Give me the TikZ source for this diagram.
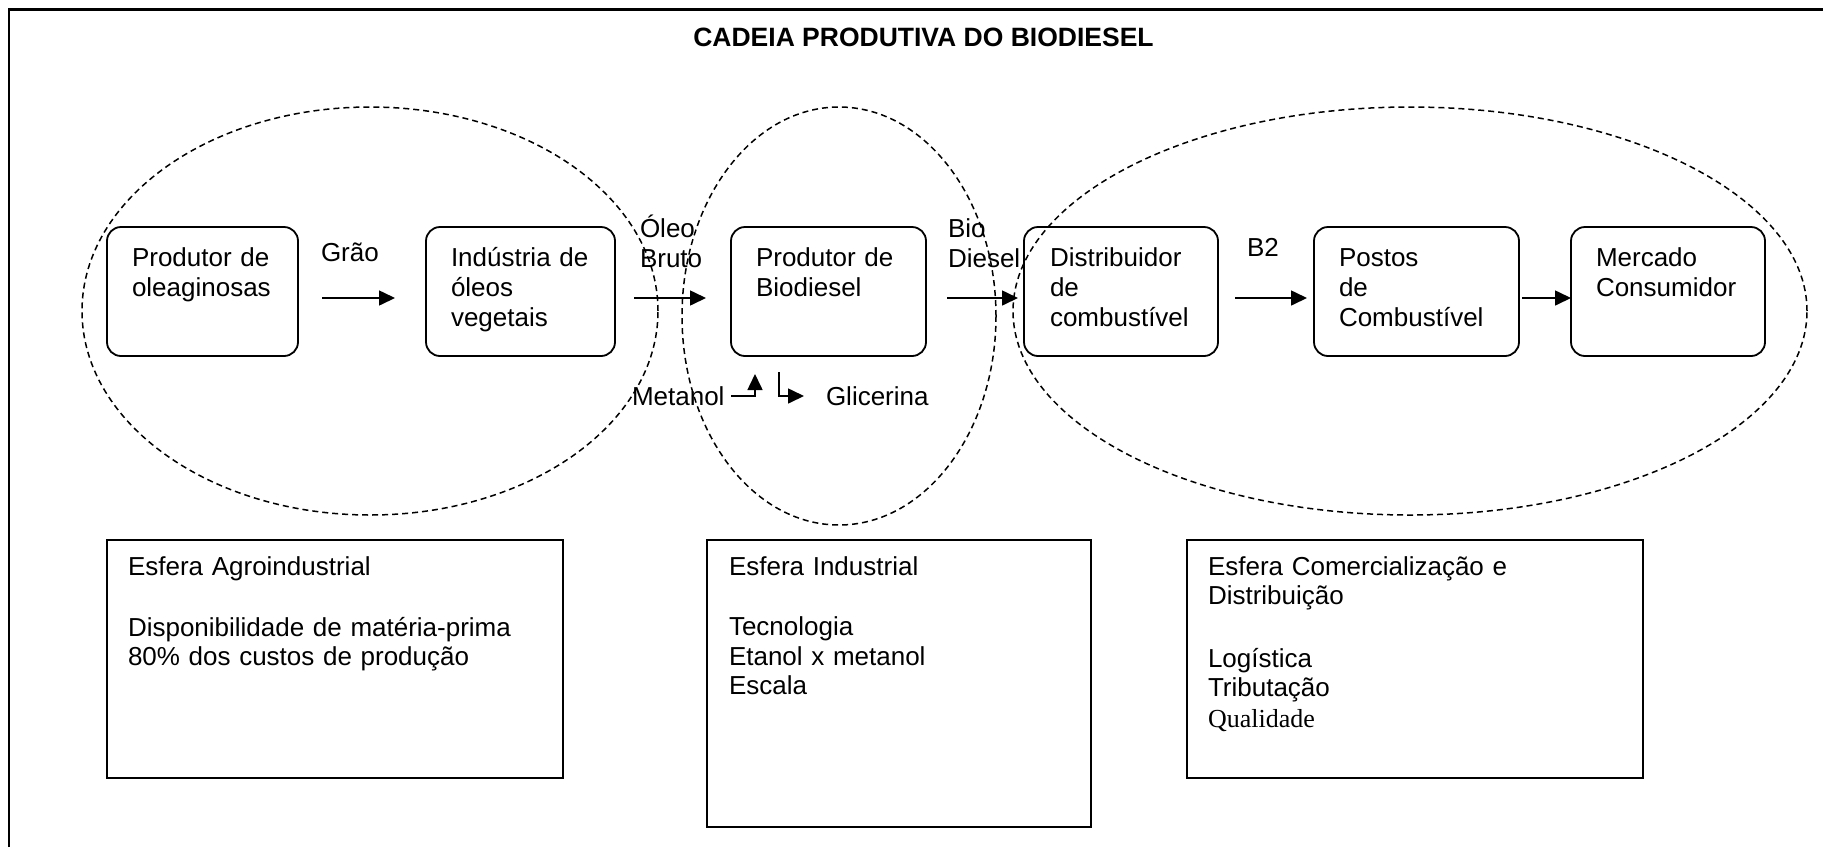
\documentclass[tikz,border=0pt]{standalone}
\usepackage{fontspec}
\setmainfont{Liberation Sans}
\newfontfamily\qualfont{Liberation Serif}
\usetikzlibrary{arrows.meta}

\tikzset{
  frameline/.style={line width=2.5pt},
  sphere/.style={draw, dash pattern=on 6pt off 4pt, line width=1.5pt},
  rbox/.style={draw, rounded corners=14pt, line width=1.8pt, inner sep=0pt, outer sep=0pt},
  sbox/.style={draw, line width=2.2pt, inner sep=0pt, outer sep=0pt},
  txt/.style={font=\fontsize{26}{30}\selectfont, inner sep=0pt, outer sep=0pt,
              anchor=base west, align=left, text width=#1},
  txt/.default=180pt,
  flow/.style={-{Triangle[length=16pt,width=15pt]}, line width=1.6pt},
}

\begin{document}
\begin{tikzpicture}[x=1pt,y=-1pt]
\useasboundingbox (0,0) rectangle (1823,847);

% outer frame (top and left edges)
\draw[frameline] (9,847) -- (9,9.5) -- (1823,9.5);

% title
\node[font=\bfseries\fontsize{26.5}{30}\selectfont, inner sep=0pt] (title) at (923.5,37)
  {CADEIA PRODUTIVA DO BIODIESEL};

% chain of agents
\node[rbox, minimum width=191pt, minimum height=129pt] (b1) at (202.5,291.5) {};
\node[rbox, minimum width=189pt, minimum height=129pt] (b2) at (520.5,291.5) {};
\node[rbox, minimum width=195pt, minimum height=129pt] (b3) at (828.5,291.5) {};
\node[rbox, minimum width=194pt, minimum height=129pt] (b4) at (1121,291.5) {};
\node[rbox, minimum width=205pt, minimum height=129pt] (b5) at (1416.5,291.5) {};
\node[rbox, minimum width=194pt, minimum height=129pt] (b6) at (1668,291.5) {};

\node[txt] (t1) at ([xshift=25pt,yshift=-39pt]b1.north west) {Produtor de\\oleaginosas};
\node[txt] (t2) at ([xshift=25pt,yshift=-39pt]b2.north west) {Indústria de\\óleos\\vegetais};
\node[txt] (t3) at ([xshift=25pt,yshift=-39pt]b3.north west) {Produtor de\\Biodiesel};
\node[txt] (t4) at ([xshift=26pt,yshift=-39pt]b4.north west) {Distribuidor\\de\\combustível};
\node[txt] (t5) at ([xshift=25pt,yshift=-39pt]b5.north west) {Postos\\de\\Combustível};
\node[txt] (t6) at ([xshift=25pt,yshift=-39pt]b6.north west) {Mercado\\Consumidor};

% flows between agents
\draw[flow] ([xshift=24pt,yshift=-6.5pt]b1.east) -- ([xshift=-31pt,yshift=-6.5pt]b2.west);
\draw[flow] ([xshift=19pt,yshift=-6.5pt]b2.east) -- ([xshift=-25pt,yshift=-6.5pt]b3.west);
\draw[flow] ([xshift=21pt,yshift=-6.5pt]b3.east) -- ([xshift=-6pt,yshift=-6.5pt]b4.west);
\draw[flow] ([xshift=17pt,yshift=-6.5pt]b4.east) -- ([xshift=-7pt,yshift=-6.5pt]b5.west);
\draw[flow] ([xshift=3pt,yshift=-6.5pt]b5.east) -- ([yshift=-6.5pt]b6.west);

% flow labels
\node[txt=80pt] (lgrao) at (321,261) {Grão};
\node[txt=80pt] (loleo) at (640,237) {Óleo\\Bruto};
\node[txt=80pt] (lbio) at (948,237) {Bio\\Diesel};
\node[txt=80pt] (lb2) at (1247,256) {B2};

% inputs and by-products of the biodiesel plant
\node[txt=100pt] (met) at (632,405) {Metanol};
\node[txt=120pt] (gli) at (826,405) {Glicerina};
\coordinate (metin) at ([xshift=24pt,yshift=-18pt]b3.south west);
\coordinate (gliout) at ([xshift=48pt,yshift=-16pt]b3.south west);
\draw[flow] (731,396) -| (metin);
\draw[flow] (gliout) |- (804,396);

% spheres of the chain
\draw[sphere] (370,311) ellipse [x radius=288pt, y radius=204pt];
\draw[sphere] (839,316) ellipse [x radius=157pt, y radius=209pt];
\draw[sphere] (1410,311) ellipse [x radius=397pt, y radius=204pt];

% description boxes
\node[sbox, minimum width=456pt, minimum height=238pt] (sa) at (335,659) {};
\node[sbox, minimum width=384pt, minimum height=287pt] (sb) at (899,683.5) {};
\node[sbox, minimum width=456pt, minimum height=238pt] (sc) at (1415,659) {};

\node[txt=420pt, font=\fontsize{26}{29}\selectfont] (ta) at ([xshift=21pt,yshift=-35pt]sa.north west)
  {Esfera Agroindustrial\\[32pt]Disponibilidade de matéria-prima\\80\% dos custos de produção};
\node[txt=350pt, font=\fontsize{26}{29.5}\selectfont] (tb) at ([xshift=22pt,yshift=-35pt]sb.north west)
  {Esfera Industrial\\[31pt]Tecnologia\\Etanol x metanol\\Escala};
\node[txt=420pt, font=\fontsize{26}{29}\selectfont] (tc) at ([xshift=21pt,yshift=-35pt]sc.north west)
  {Esfera Comercialização e\\Distribuição\\[34pt]Logística\\Tributação\\[2pt]{\qualfont Qualidade}};
\end{tikzpicture}
\end{document}
